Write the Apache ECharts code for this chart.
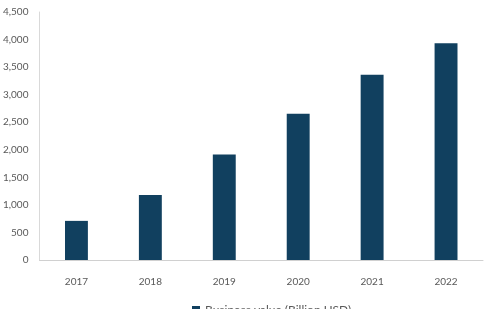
<!DOCTYPE html>
<html>
<head>
<meta charset="utf-8">
<script src="https://cdn.jsdelivr.net/npm/echarts@6/dist/echarts.min.js"></script>
<style>
  html, body { margin: 0; padding: 0; background: #fff; }
  #chart { width: 485px; height: 309px; }
</style>
</head>
<body>
<div id="chart"></div>
<script>
var years = ['2017', '2018', '2019', '2020', '2021', '2022'];
var businessValue = [710, 1180, 1915, 2655, 3360, 3935];
var seriesName = 'Business value (Billion USD)';

var myChart = echarts.init(document.getElementById('chart'));

var option = {
    animation: false,
    textStyle: { fontFamily: 'Lato, "Open Sans", sans-serif' },
    grid: { left: 39, right: 2, top: 12, bottom: 49 },
    legend: {
        data: [seriesName],
        icon: 'rect',
        left: 187,
        top: 299,
        itemWidth: 8,
        itemHeight: 8,
        itemGap: 8,
        textStyle: { color: '#595959', fontSize: 12 }
    },
    xAxis: {
        type: 'category',
        data: years,
        axisLine: { lineStyle: { color: '#d0d0d0', width: 1 } },
        axisTick: { show: false },
        axisLabel: { color: '#595959', fontSize: 10, margin: 17 }
    },
    yAxis: {
        type: 'value',
        min: 0,
        max: 4500,
        interval: 500,
        axisLine: { show: true, lineStyle: { color: '#d9d9d9', width: 1 } },
        axisTick: { show: false },
        splitLine: { show: false },
        axisLabel: {
            color: '#595959',
            fontSize: 10,
            margin: 11,
            formatter: function (v) { return v.toLocaleString('en-US'); }
        }
    },
    series: [{
        name: seriesName,
        type: 'bar',
        data: businessValue,
        barWidth: '31%',
        itemStyle: { color: '#11405f' }
    }]
};

myChart.setOption(option);
window.addEventListener('resize', function () { myChart.resize(); });
</script>
</body>
</html>
